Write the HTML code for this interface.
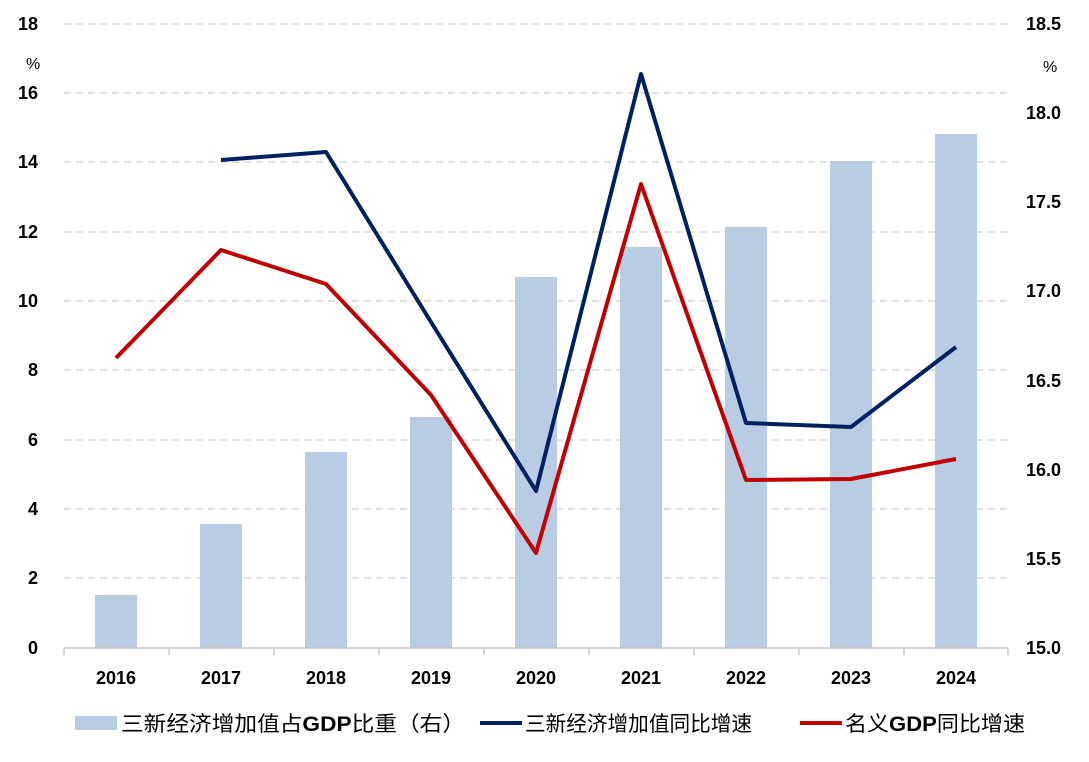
<!DOCTYPE html>
<html><head><meta charset="utf-8"><style>
body{margin:0;background:#fff}
svg text{font-family:"Liberation Sans","Noto Sans CJK SC",sans-serif;font-weight:bold;fill:#000}
svg text.lg{font-weight:normal}
</style></head><body>
<svg width="1089" height="757" viewBox="0 0 1089 757" xmlns="http://www.w3.org/2000/svg">
<g stroke="#d0d0d0" stroke-width="1.3" stroke-dasharray="7,5">
<line x1="64" x2="1008" y1="24" y2="24"/><line x1="64" x2="1008" y1="93" y2="93"/>
<line x1="64" x2="1008" y1="162" y2="162"/><line x1="64" x2="1008" y1="232" y2="232"/>
<line x1="64" x2="1008" y1="301" y2="301"/><line x1="64" x2="1008" y1="370" y2="370"/>
<line x1="64" x2="1008" y1="440" y2="440"/><line x1="64" x2="1008" y1="509" y2="509"/>
<line x1="64" x2="1008" y1="578" y2="578"/>
</g>
<g fill="#b8cce4">
<rect x="95" y="595" width="42" height="53"/><rect x="200" y="524" width="42" height="124"/>
<rect x="305" y="452" width="42" height="196"/><rect x="410" y="417" width="42" height="231"/>
<rect x="515" y="277" width="42" height="371"/><rect x="620" y="247" width="42" height="401"/>
<rect x="725" y="227" width="42" height="421"/><rect x="830" y="161" width="42" height="487"/>
<rect x="935" y="134" width="42" height="514"/>
</g>
<line x1="64" x2="1008" y1="648" y2="648" stroke="#bfbfbf" stroke-width="1.3"/>
<g stroke="#bfbfbf" stroke-width="1.3">
<line x1="64" x2="64" y1="648" y2="655"/><line x1="169" x2="169" y1="648" y2="655"/><line x1="274" x2="274" y1="648" y2="655"/><line x1="379" x2="379" y1="648" y2="655"/><line x1="484" x2="484" y1="648" y2="655"/><line x1="589" x2="589" y1="648" y2="655"/><line x1="694" x2="694" y1="648" y2="655"/><line x1="799" x2="799" y1="648" y2="655"/><line x1="904" x2="904" y1="648" y2="655"/><line x1="1008" x2="1008" y1="648" y2="655"/>
</g>
<polyline fill="none" stroke="#002060" stroke-width="4" stroke-linejoin="round" points="221,160 326,152 431,322 536,491 641,74 746,423 851,427 956,347"/>
<polyline fill="none" stroke="#c00000" stroke-width="4" stroke-linejoin="round" points="116,358 221,250 326,284 431,395 536,553 641,184 746,480 851,479 956,459"/>
<g font-size="18" text-anchor="end">
<text x="38" y="30">18</text><text x="38" y="99">16</text><text x="38" y="168">14</text><text x="38" y="238">12</text><text x="38" y="307">10</text><text x="38" y="376">8</text><text x="38" y="446">6</text><text x="38" y="515">4</text><text x="38" y="584">2</text><text x="38" y="654">0</text>
</g>
<text x="26" y="69" font-size="16" style="font-weight:normal">%</text>
<text x="1043" y="72" font-size="16" style="font-weight:normal">%</text>
<g font-size="18">
<text x="1026" y="30">18.5</text><text x="1026" y="119">18.0</text><text x="1026" y="208">17.5</text><text x="1026" y="297">17.0</text><text x="1026" y="387">16.5</text><text x="1026" y="476">16.0</text><text x="1026" y="565">15.5</text><text x="1026" y="654">15.0</text>
</g>
<g font-size="18" text-anchor="middle">
<text x="116" y="684">2016</text><text x="221" y="684">2017</text><text x="326" y="684">2018</text><text x="431" y="684">2019</text><text x="536" y="684">2020</text><text x="641" y="684">2021</text><text x="746" y="684">2022</text><text x="851" y="684">2023</text><text x="956" y="684">2024</text>
</g>
<rect x="75" y="716" width="42" height="14" fill="#b8cce4"/>
<text class="lg" x="121" y="731" font-size="21" textLength="344" lengthAdjust="spacingAndGlyphs">三新经济增加值占<tspan font-weight="bold">GDP</tspan>比重（右）</text>
<line x1="480" x2="522" y1="723" y2="723" stroke="#002060" stroke-width="4"/>
<text class="lg" x="525" y="731" font-size="21" textLength="227" lengthAdjust="spacingAndGlyphs">三新经济增加值同比增速</text>
<line x1="800" x2="842" y1="723" y2="723" stroke="#c00000" stroke-width="4"/>
<text class="lg" x="845" y="731" font-size="21" textLength="180" lengthAdjust="spacingAndGlyphs">名义<tspan font-weight="bold">GDP</tspan>同比增速</text>
</svg>
</body></html>
